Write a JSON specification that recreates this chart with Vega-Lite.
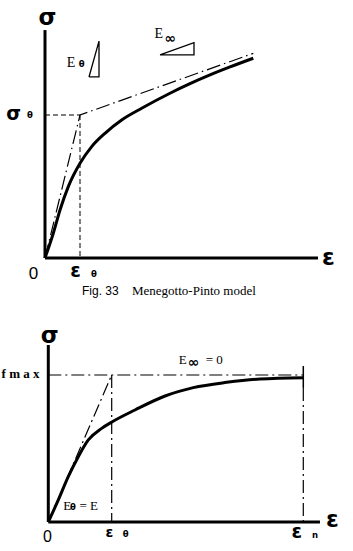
{
  "$schema": "https://vega.github.io/schema/vega-lite/v6.json",
  "background": "white",
  "padding": 0,
  "spacing": 0,
  "config": {"view": {"stroke": null}, "concat": {"spacing": 0}},
  "datasets": {
    "top_axes": [
      {"seg": "y", "o": 0, "e": 0, "s": 0}, {"seg": "y", "o": 1, "e": 0, "s": 1.594},
      {"seg": "x", "o": 0, "e": 0, "s": 0}, {"seg": "x", "o": 1, "e": 7.8, "s": 0}
    ],
    "top_guides": [
      {"seg": "h", "o": 0, "e": 0, "s": 1}, {"seg": "h", "o": 1, "e": 1, "s": 1},
      {"seg": "v", "o": 0, "e": 1, "s": 1}, {"seg": "v", "o": 1, "e": 1, "s": 0}
    ],
    "top_bilinear": [
      {"o": 0, "e": 0, "s": 0}, {"o": 1, "e": 1, "s": 1}, {"o": 2, "e": 5.951, "s": 1.431}
    ],
    "top_curve": [
      {"o": 0, "e": 0, "s": 0}, {"o": 1, "e": 0.237, "s": 0.173}, {"o": 2, "e": 0.429, "s": 0.336},
      {"o": 3, "e": 0.666, "s": 0.499}, {"o": 4, "e": 1.0, "s": 0.662}, {"o": 5, "e": 1.334, "s": 0.779},
      {"o": 6, "e": 1.714, "s": 0.872}, {"o": 7, "e": 2.191, "s": 0.965}, {"o": 8, "e": 2.763, "s": 1.047},
      {"o": 9, "e": 3.571, "s": 1.152}, {"o": 10, "e": 4.143, "s": 1.219},
      {"o": 11, "e": 4.714, "s": 1.28}, {"o": 12, "e": 5.286, "s": 1.336}, {"o": 13, "e": 5.951, "s": 1.397}
    ],
    "top_triangles": [
      {"tri": "E0", "o": 0, "e": 1.257, "s": 1.266}, {"tri": "E0", "o": 1, "e": 1.543, "s": 1.266},
      {"tri": "E0", "o": 2, "e": 1.543, "s": 1.517}, {"tri": "E0", "o": 3, "e": 1.257, "s": 1.266},
      {"tri": "Einf", "o": 0, "e": 3.286, "s": 1.42}, {"tri": "Einf", "o": 1, "e": 4.257, "s": 1.42},
      {"tri": "Einf", "o": 2, "e": 4.257, "s": 1.506}, {"tri": "Einf", "o": 3, "e": 3.286, "s": 1.42}
    ],
    "top_big": [
      {"t": "σ", "e": 0.071, "s": 1.629}, {"t": "ε", "e": 8.1, "s": -0.049}
    ],
    "top_mid": [
      {"t": "σ", "e": -0.894, "s": 0.965}, {"t": "ε", "e": 0.871, "s": -0.133}
    ],
    "top_sub": [
      {"t": "θ", "e": -0.429, "s": 0.979}, {"t": "θ", "e": 1.4, "s": -0.133}, {"t": "θ", "e": 1.049, "s": 1.338}
    ],
    "top_zero": [{"t": "0", "e": -0.329, "s": -0.147}],
    "top_E": [{"t": "E", "e": 0.743, "s": 1.338}, {"t": "E", "e": 3.251, "s": 1.536}],
    "top_inf": [{"t": "∞", "e": 3.58, "s": 1.53}],
    "top_cap_sans": [{"t": "Fig. 33", "e": 1.057, "s": -0.259}],
    "top_cap_serif": [{"t": "Menegotto-Pinto model", "e": 2.486, "s": -0.259}],
    "bot_axes": [
      {"seg": "y", "o": 0, "e": 0, "s": 0}, {"seg": "y", "o": 1, "e": 0, "s": 1.204},
      {"seg": "x", "o": 0, "e": 0, "s": 0}, {"seg": "x", "o": 1, "e": 4.285, "s": 0}
    ],
    "bot_dashdot": [
      {"seg": "fmax", "o": 0, "e": 0, "s": 1}, {"seg": "fmax", "o": 1, "e": 4.022, "s": 1},
      {"seg": "E0", "o": 0, "e": 0, "s": 0}, {"seg": "E0", "o": 1, "e": 1, "s": 1},
      {"seg": "ey", "o": 0, "e": 1, "s": 1}, {"seg": "ey", "o": 1, "e": 1, "s": 0},
      {"seg": "en", "o": 0, "e": 4.022, "s": 0.912}, {"seg": "en", "o": 1, "e": 4.022, "s": 0}
    ],
    "bot_tick": [
      {"o": 0, "e": 4.022, "s": 1.061}, {"o": 1, "e": 4.022, "s": 0.912}
    ],
    "bot_curve": [
      {"o": 0, "e": 0, "s": 0}, {"o": 1, "e": 0.158, "s": 0.15}, {"o": 2, "e": 0.315, "s": 0.308},
      {"o": 3, "e": 0.473, "s": 0.444}, {"o": 4, "e": 0.631, "s": 0.558}, {"o": 5, "e": 0.842, "s": 0.637},
      {"o": 6, "e": 1.009, "s": 0.682}, {"o": 7, "e": 1.367, "s": 0.762}, {"o": 8, "e": 1.841, "s": 0.857},
      {"o": 9, "e": 2.287, "s": 0.914}, {"o": 10, "e": 2.814, "s": 0.95}, {"o": 11, "e": 3.339, "s": 0.973},
      {"o": 12, "e": 4.022, "s": 0.982}
    ],
    "bot_big": [{"t": "σ", "e": 0.022, "s": 1.22}, {"t": "ε", "e": 4.483, "s": -0.032}],
    "bot_mid": [{"t": "ε", "e": 3.918, "s": -0.111}],
    "bot_small": [{"t": "ε", "e": 0.965, "s": -0.104}],
    "bot_sub": [
      {"t": "θ", "e": 1.222, "s": -0.104}, {"t": "n", "e": 4.207, "s": -0.107}, {"t": "θ", "e": 0.39, "s": 0.082}
    ],
    "bot_fmax": [{"t": "f m a x", "e": -0.139, "s": 0.977}],
    "bot_serif": [
      {"t": "E", "e": 2.119, "s": 1.073}, {"t": "= 0", "e": 2.617, "s": 1.073},
      {"t": "E", "e": 0.3, "s": 0.082}, {"t": "= E", "e": 0.637, "s": 0.082}
    ],
    "bot_inf": [{"t": "∞", "e": 2.29, "s": 1.08}],
    "bot_zero": [{"t": "0", "e": -0.013, "s": -0.133}]
  },
  "vconcat": [
    {
      "width": 353,
      "height": 300,
      "encoding": {
        "x": {"field": "e", "type": "quantitative", "axis": null, "scale": {"domain": [-1.2857, 8.8], "nice": false, "zero": false}},
        "y": {"field": "s", "type": "quantitative", "axis": null, "scale": {"domain": [-0.2937, 1.8042], "nice": false, "zero": false}}
      },
      "layer": [
        {"data": {"name": "top_guides"}, "mark": {"type": "line", "color": "black", "strokeWidth": 1, "strokeDash": [5, 3]}, "encoding": {"detail": {"field": "seg"}, "order": {"field": "o"}}},
        {"data": {"name": "top_bilinear"}, "mark": {"type": "line", "color": "black", "strokeWidth": 1.2, "strokeDash": [14, 4, 1.5, 4]}, "encoding": {"order": {"field": "o"}}},
        {"data": {"name": "top_curve"}, "mark": {"type": "line", "color": "black", "strokeWidth": 3, "interpolate": "monotone"}, "encoding": {"order": {"field": "o"}}},
        {"data": {"name": "top_triangles"}, "mark": {"type": "line", "color": "black", "strokeWidth": 1.3, "strokeJoin": "miter"}, "encoding": {"detail": {"field": "tri"}, "order": {"field": "o"}}},
        {"data": {"name": "top_axes"}, "mark": {"type": "line", "color": "black", "strokeWidth": 3}, "encoding": {"detail": {"field": "seg"}, "order": {"field": "o"}}},
        {"data": {"name": "top_big"}, "mark": {"type": "text", "font": "DejaVu Sans", "fontWeight": "bold", "fontSize": 23, "align": "center", "baseline": "alphabetic", "color": "black"}, "encoding": {"text": {"field": "t"}}},
        {"data": {"name": "top_mid"}, "mark": {"type": "text", "font": "DejaVu Sans", "fontWeight": "bold", "fontSize": 19, "align": "center", "baseline": "alphabetic", "color": "black"}, "encoding": {"text": {"field": "t"}}},
        {"data": {"name": "top_sub"}, "mark": {"type": "text", "font": "DejaVu Sans", "fontWeight": "bold", "fontSize": 8.5, "align": "center", "baseline": "alphabetic", "color": "black"}, "encoding": {"text": {"field": "t"}}},
        {"data": {"name": "top_zero"}, "mark": {"type": "text", "font": "Liberation Sans", "fontSize": 17, "align": "center", "baseline": "alphabetic", "color": "black"}, "encoding": {"text": {"field": "t"}}},
        {"data": {"name": "top_E"}, "mark": {"type": "text", "font": "Liberation Serif", "fontSize": 14, "align": "center", "baseline": "alphabetic", "color": "black"}, "encoding": {"text": {"field": "t"}}},
        {"data": {"name": "top_inf"}, "mark": {"type": "text", "font": "DejaVu Sans", "fontWeight": "bold", "fontSize": 14, "align": "center", "baseline": "middle", "color": "black"}, "encoding": {"text": {"field": "t"}}},
        {"data": {"name": "top_cap_sans"}, "mark": {"type": "text", "font": "Liberation Sans", "fontSize": 12, "align": "left", "baseline": "alphabetic", "color": "black"}, "encoding": {"text": {"field": "t"}}},
        {"data": {"name": "top_cap_serif"}, "mark": {"type": "text", "font": "Liberation Serif", "fontSize": 13, "align": "left", "baseline": "alphabetic", "color": "black"}, "encoding": {"text": {"field": "t"}}}
      ]
    },
    {
      "width": 353,
      "height": 251,
      "encoding": {
        "x": {"field": "e", "type": "quantitative", "axis": null, "scale": {"domain": [-0.7618, 4.806], "nice": false, "zero": false}},
        "y": {"field": "s", "type": "quantitative", "axis": null, "scale": {"domain": [-0.1973, 1.5102], "nice": false, "zero": false}}
      },
      "layer": [
        {"data": {"name": "bot_dashdot"}, "mark": {"type": "line", "color": "black", "strokeWidth": 1.2, "strokeDash": [13, 4, 2, 4]}, "encoding": {"detail": {"field": "seg"}, "order": {"field": "o"}}},
        {"data": {"name": "bot_tick"}, "mark": {"type": "line", "color": "black", "strokeWidth": 1.5}, "encoding": {"order": {"field": "o"}}},
        {"data": {"name": "bot_curve"}, "mark": {"type": "line", "color": "black", "strokeWidth": 3, "interpolate": "monotone"}, "encoding": {"order": {"field": "o"}}},
        {"data": {"name": "bot_axes"}, "mark": {"type": "line", "color": "black", "strokeWidth": 3}, "encoding": {"detail": {"field": "seg"}, "order": {"field": "o"}}},
        {"data": {"name": "bot_big"}, "mark": {"type": "text", "font": "DejaVu Sans", "fontWeight": "bold", "fontSize": 23, "align": "center", "baseline": "alphabetic", "color": "black"}, "encoding": {"text": {"field": "t"}}},
        {"data": {"name": "bot_mid"}, "mark": {"type": "text", "font": "DejaVu Sans", "fontWeight": "bold", "fontSize": 19, "align": "center", "baseline": "alphabetic", "color": "black"}, "encoding": {"text": {"field": "t"}}},
        {"data": {"name": "bot_small"}, "mark": {"type": "text", "font": "DejaVu Sans", "fontWeight": "bold", "fontSize": 14, "align": "center", "baseline": "alphabetic", "color": "black"}, "encoding": {"text": {"field": "t"}}},
        {"data": {"name": "bot_sub"}, "mark": {"type": "text", "font": "DejaVu Sans", "fontWeight": "bold", "fontSize": 8.5, "align": "center", "baseline": "alphabetic", "color": "black"}, "encoding": {"text": {"field": "t"}}},
        {"data": {"name": "bot_fmax"}, "mark": {"type": "text", "font": "Liberation Serif", "fontWeight": "bold", "fontSize": 13, "align": "right", "baseline": "alphabetic", "color": "black"}, "encoding": {"text": {"field": "t"}}},
        {"data": {"name": "bot_serif"}, "mark": {"type": "text", "font": "Liberation Serif", "fontSize": 13, "align": "center", "baseline": "alphabetic", "color": "black"}, "encoding": {"text": {"field": "t"}}},
        {"data": {"name": "bot_inf"}, "mark": {"type": "text", "font": "DejaVu Sans", "fontWeight": "bold", "fontSize": 14, "align": "center", "baseline": "middle", "color": "black"}, "encoding": {"text": {"field": "t"}}},
        {"data": {"name": "bot_zero"}, "mark": {"type": "text", "font": "Liberation Sans", "fontSize": 16, "align": "center", "baseline": "alphabetic", "color": "black"}, "encoding": {"text": {"field": "t"}}}
      ]
    }
  ]
}
